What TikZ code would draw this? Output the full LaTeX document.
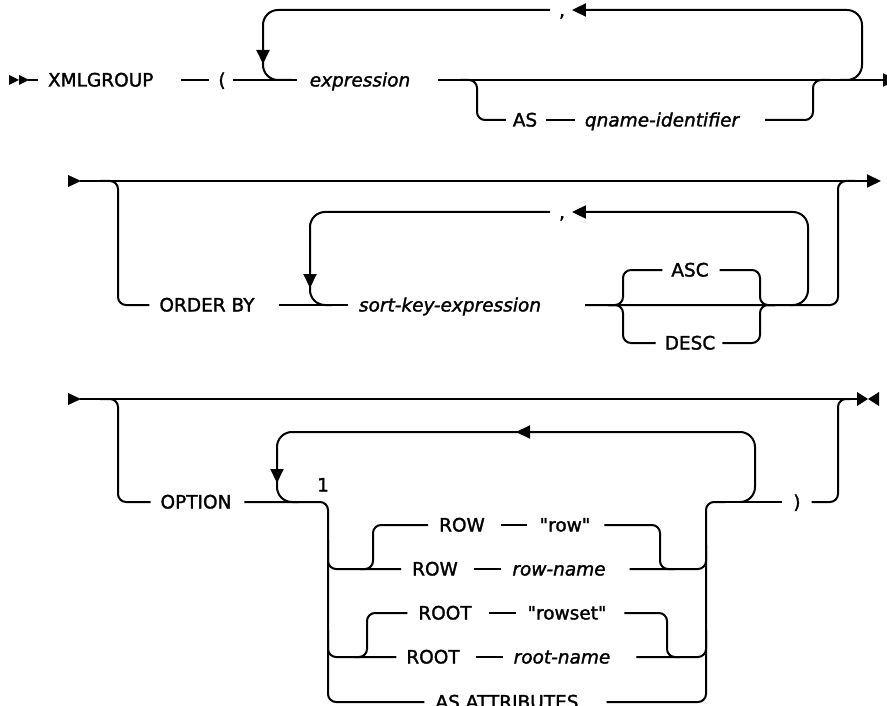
\documentclass[tikz,border=0pt]{standalone}
\usepackage{fontspec}
\setmainfont{DejaVu Sans}[Ligatures=TeXOff,FakeBold=1.6]
\usetikzlibrary{arrows.meta}
\begin{document}
\begin{tikzpicture}[x=1pt,y=-1pt,line width=2pt,
  kw/.style={inner sep=0pt,text height=13pt,text depth=0pt,font=\fontsize{18.5}{20}\selectfont},
  var/.style={kw,font=\fontsize{18.5}{20}\selectfont\itshape},
  rr/.style={rounded corners=8pt},
  lp/.style={rounded corners=15pt},
  tip/.style={-{Triangle[length=14pt,width=13pt]}}]
\useasboundingbox (0,0) rectangle (887,706);

% ---------- row 1 ----------
\fill (9,75) -- (19,80) -- (9,85) -- cycle;
\fill (19,75) -- (29,80) -- (19,85) -- cycle;
\node[kw,anchor=west] (xg) at (47,80) {XMLGROUP};
\node[kw] (lp1) at (222,80) {(};
\node[var] (ex) at (360,80) {expression};
\node[kw] (cm1) at (562,10) {,};
\node[kw] (as1) at (525,120) {AS};
\node[var] (qn) at (662,120) {qname-identifier};
\coordinate (e1) at (897,80);

\draw (28,80) -- ([xshift=-9pt]xg.west);
\draw ([xshift=-36pt]lp1.west) -- ([xshift=-8pt]lp1.west);
\draw ([xshift=6pt]lp1.east) -- ([xshift=-12pt]ex.west);
\draw[tip] ([xshift=27pt]ex.east) -- (e1);
\draw[rr] (460,80) -- (477,80) -- (477,120) -- ([xshift=-6pt]as1.west);
\draw ([xshift=8pt]as1.east) -- ([xshift=-9pt]qn.west);
\draw[rr] ([xshift=25pt]qn.east) -- (813,120) -- (813,80) -- (830,80);
\draw[lp,tip] (840,80) -- (862,80) -- (862,10) -- ([xshift=6pt]cm1.east);
\draw[lp] ([xshift=-8pt]cm1.west) -- (263,10) -- (263,80) -- (292,80);
\draw[tip] (263,45) -- (263,64);

% ---------- row 2 ----------
\fill (68,175) -- (81,181) -- (68,187) -- cycle;
\draw[tip] (80,181) -- (881,181);
\node[kw] (ob) at (207,305) {ORDER BY};
\node[var] (sk) at (450,305) {sort-key-expression};
\node[kw] (cm2) at (562,212) {,};
\node[kw] (asc) at (690,270) {ASC};
\node[kw] (desc) at (690,343) {DESC};

\draw[rr] (100,181) -- (118,181) -- (118,305) -- ([xshift=-9pt]ob.west);
\draw ([xshift=23pt]ob.east) -- ([xshift=-10pt]sk.west);
\draw[lp] ([xshift=-8pt]cm2.west) -- (310,212) -- (310,305) -- (332,305);
\draw[tip] (310,262) -- (310,288);
\draw[lp,tip] (790,305) -- (808,305) -- (808,212) -- ([xshift=6pt]cm2.east);
\draw[rr] ([xshift=43pt]sk.east) -- (838,305) -- (838,181) -- (855,181);
\draw[rr] (608,305) -- (623,305) -- (623,270) -- ([xshift=-8pt]asc.west);
\draw[rr] (608,305) -- (623,305) -- (623,343) -- ([xshift=-8pt]desc.west);
\draw[rr] ([xshift=10pt]asc.east) -- (760,270) -- (760,305) -- (775,305);
\draw[rr] ([xshift=6pt]desc.east) -- (760,343) -- (760,305) -- (775,305);

% ---------- row 3 ----------
\fill (68,393) -- (81,399) -- (68,405) -- cycle;
\coordinate (e3) at (857,399);
\draw (80,399) -- (e3);
\fill (857,392) -- (868,399) -- (857,406) -- cycle;
\fill (879,392) -- (868,399) -- (879,406) -- cycle;
\node[kw] (op) at (196,502) {OPTION};
\node[kw] (fn) at (323,485) {1};
\node[kw] (rw1) at (462,525) {ROW};
\node[kw] (rw1v) at (565,525) {"row"};
\node[kw] (rw2) at (435,569) {ROW};
\node[var] (rn) at (559,569) {row-name};
\node[kw] (rt1) at (445,613) {ROOT};
\node[kw] (rs) at (567,613) {"rowset"};
\node[kw] (rt2) at (433,657) {ROOT};
\node[var] (rtn) at (562,657) {root-name};
\node[kw] (aa) at (507,702) {AS ATTRIBUTES};
\node[kw] (rp) at (797,502) {)};

\draw[rr] (100,399) -- (118,399) -- (118,502) -- ([xshift=-9pt]op.west);
\draw[rr] ([xshift=12pt]op.east) -- (328,502) -- (328,702) -- ([xshift=-10pt]aa.west);
\draw[rr] (328,540) -- (328,569) -- ([xshift=-10pt]rw2.west);
\draw[rr] (328,630) -- (328,657) -- ([xshift=-9pt]rt2.west);
\draw[rr] (360,569) -- (373,569) -- (373,525) -- ([xshift=-10pt]rw1.west);
\draw[rr] (354,657) -- (367,657) -- (367,613) -- ([xshift=-10pt]rt1.west);
\draw ([xshift=15pt]rw1.east) -- ([xshift=-12pt]rw1v.west);
\draw ([xshift=15pt]rw2.east) -- ([xshift=-10pt]rn.west);
\draw ([xshift=16pt]rt1.east) -- ([xshift=-11pt]rs.west);
\draw ([xshift=15pt]rt2.east) -- ([xshift=-10pt]rtn.west);
\draw[rr] ([xshift=13pt]rw1v.east) -- (660,525) -- (660,569) -- (675,569);
\draw[rr] ([xshift=17pt]rs.east) -- (667,613) -- (667,657) -- (680,657);
\draw[rr] ([xshift=23pt]rn.east) -- (706,569) -- (706,545);
\draw[rr] ([xshift=25pt]rtn.east) -- (706,657) -- (706,630);
\draw[rr] ([xshift=27pt]aa.east) -- (706,702) -- (706,502) -- (725,502);
\draw (720,502) -- ([xshift=-10pt]rp.west);
\draw[rr] ([xshift=10pt]rp.east) -- (838,502) -- (838,399) -- (850,399);
\draw[lp,tip] (740,502) -- (755,502) -- (755,432) -- (516,432);
\draw[lp] (520,432) -- (277,432) -- (277,502) -- (299,502);
\draw[tip] (277,455) -- (277,483);
\end{tikzpicture}
\end{document}
